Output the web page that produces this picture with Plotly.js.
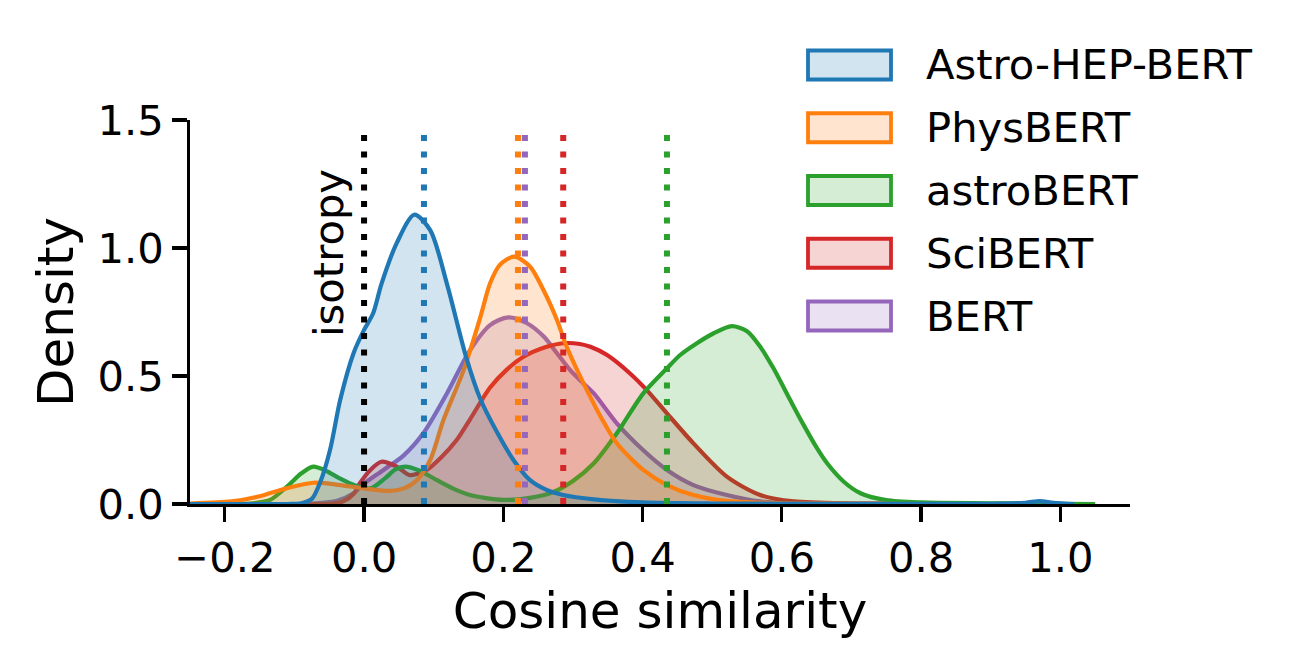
<!DOCTYPE html>
<html>
<head>
<meta charset="utf-8">
<script src="https://cdn.plot.ly/plotly-3.0.1.min.js"></script>
<style>body{margin:0;background:#fff}</style>
</head>
<body>
<div id="chart" style="width:1297px;height:670px"></div>
<script>
// models, in legend order
const models = ['Astro-HEP-BERT', 'PhysBERT', 'astroBERT', 'SciBERT', 'BERT'];
// mean cosine similarity per model (dotted lines)
const means = [0.086, 0.221, 0.435, 0.286, 0.231];
const isotropyX = 0.0;
const meanLineTop = 1.45;

// KDE curves
const astroHepX = [-0.25, -0.11, -0.09, -0.075, -0.063, -0.049, -0.034, -0.015, 0.0, 0.013, 0.025, 0.047, 0.072, 0.095, 0.119, 0.147, 0.167, 0.191, 0.215, 0.238, 0.262, 0.286, 0.33, 0.4, 0.5, 0.9, 0.95, 0.97, 0.99, 1.02];
const astroHepY = [0, 0, 0.003, 0.02, 0.085, 0.21, 0.41, 0.59, 0.68, 0.745, 0.86, 1.02, 1.13, 1.07, 0.86, 0.57, 0.41, 0.28, 0.17, 0.094, 0.055, 0.035, 0.018, 0.006, 0.002, 0.001, 0.005, 0.011, 0.005, 0];

const physX = [-0.25, -0.19, -0.15, -0.12, -0.095, -0.073, -0.04, 0.0, 0.033, 0.057, 0.076, 0.095, 0.114, 0.143, 0.167, 0.181, 0.195, 0.2155, 0.2385, 0.2576, 0.277, 0.291, 0.306, 0.32, 0.34, 0.363, 0.401, 0.435, 0.473, 0.52, 0.6, 0.7, 0.8];
const physY = [0.002, 0.01, 0.03, 0.055, 0.072, 0.083, 0.076, 0.061, 0.051, 0.061, 0.094, 0.172, 0.328, 0.523, 0.73, 0.862, 0.934, 0.966, 0.927, 0.836, 0.719, 0.614, 0.523, 0.445, 0.34, 0.237, 0.133, 0.074, 0.035, 0.012, 0.003, 0.001, 0];

const astroX = [-0.25, -0.16, -0.135, -0.11, -0.09, -0.073, -0.055, -0.035, -0.015, 0.009, 0.03, 0.045, 0.059, 0.08, 0.104, 0.128, 0.152, 0.2, 0.24, 0.27, 0.3, 0.33, 0.363, 0.401, 0.435, 0.454, 0.478, 0.502, 0.528, 0.55, 0.569, 0.588, 0.612, 0.631, 0.65, 0.665, 0.689, 0.713, 0.75, 0.8, 0.9, 1.0, 1.05];
const astroY = [0, 0.003, 0.016, 0.07, 0.12, 0.146, 0.13, 0.10, 0.075, 0.061, 0.10, 0.135, 0.146, 0.13, 0.094, 0.06, 0.035, 0.016, 0.025, 0.045, 0.09, 0.159, 0.276, 0.432, 0.53, 0.582, 0.628, 0.667, 0.695, 0.675, 0.614, 0.53, 0.406, 0.31, 0.22, 0.159, 0.087, 0.042, 0.015, 0.006, 0.003, 0.001, 0];

const sciX = [-0.25, -0.06, -0.045, -0.03, -0.015, -0.006, 0.009, 0.025, 0.047, 0.066, 0.09, 0.11, 0.133, 0.152, 0.181, 0.205, 0.229, 0.26, 0.286, 0.31, 0.325, 0.349, 0.382, 0.406, 0.435, 0.473, 0.521, 0.569, 0.617, 0.7, 0.8, 0.9];
const sciY = [0, 0, 0.002, 0.01, 0.04, 0.081, 0.133, 0.165, 0.146, 0.113, 0.133, 0.18, 0.25, 0.33, 0.455, 0.525, 0.575, 0.612, 0.628, 0.625, 0.614, 0.582, 0.51, 0.445, 0.354, 0.237, 0.107, 0.035, 0.01, 0.002, 0.001, 0];

const bertX = [-0.25, -0.1, -0.07, -0.04, -0.015, 0.0, 0.028, 0.057, 0.085, 0.119, 0.152, 0.181, 0.207, 0.234, 0.258, 0.277, 0.296, 0.315, 0.33, 0.363, 0.401, 0.435, 0.473, 0.521, 0.569, 0.65, 0.75, 0.85];
const bertY = [0, 0, 0.003, 0.012, 0.042, 0.08, 0.133, 0.19, 0.276, 0.432, 0.60, 0.699, 0.729, 0.706, 0.654, 0.589, 0.523, 0.471, 0.432, 0.315, 0.21, 0.133, 0.074, 0.035, 0.01, 0.003, 0.001, 0];

const xTicks = [-0.2, 0.0, 0.2, 0.4, 0.6, 0.8, 1.0];
const xTickText = ['\u22120.2', '0.0', '0.2', '0.4', '0.6', '0.8', '1.0'];
const yTicks = [0, 0.5, 1.0, 1.5];
const yTickText = ['0.0', '0.5', '1.0', '1.5'];

const curvesX = [astroHepX, physX, astroX, sciX, bertX];
const curvesY = [astroHepY, physY, astroY, sciY, bertY];
const colors = ['#1f77b4', '#ff7f0e', '#2ca02c', '#d62728', '#9467bd'];

function rgba(hex, a) {
  const n = parseInt(hex.slice(1), 16);
  return 'rgba(' + (n >> 16) + ',' + ((n >> 8) & 255) + ',' + (n & 255) + ',' + a + ')';
}

const FONT = 'DejaVu Sans';
const W = 1297, H = 670;
const M = {l: 190, r: 167, t: 120, b: 166};
const pw = W - M.l - M.r, ph = H - M.t - M.b;
// pixel -> paper coords, for the hand-made legend
const px2x = p => (p - M.l) / pw;
const px2y = p => (H - M.b - p) / ph;

let data = [];
// seaborn layers the last hue first
for (let i = models.length - 1; i >= 0; i--) {
  data.push({
    x: curvesX[i],
    y: curvesY[i],
    type: 'scatter',
    mode: 'lines',
    name: models[i],
    fill: 'tozeroy',
    fillcolor: rgba(colors[i], 0.2),
    line: {color: colors[i], width: 4.2, shape: 'spline', smoothing: 0.8},
    hoverinfo: 'skip'
  });
}

const dotted = '6px,10.5px';
data.push({
  x: [isotropyX, isotropyX],
  y: [0, meanLineTop],
  type: 'scatter', mode: 'lines', name: 'isotropy',
  line: {color: 'black', width: 6, dash: dotted},
  hoverinfo: 'skip'
});
for (let i = 0; i < models.length; i++) {
  data.push({
    x: [means[i], means[i]],
    y: [0, meanLineTop],
    type: 'scatter', mode: 'lines', name: models[i] + ' mean',
    line: {color: colors[i], width: 6, dash: dotted},
    hoverinfo: 'skip'
  });
}

// legend drawn as matplotlib-style patches
let shapes = [];
let annotations = [];
for (let i = 0; i < models.length; i++) {
  const cy = 65 + i * 62.75;
  shapes.push({
    type: 'rect', xref: 'paper', yref: 'paper',
    x0: px2x(808), x1: px2x(891),
    y0: px2y(cy - 14.5), y1: px2y(cy + 14.5),
    fillcolor: rgba(colors[i], 0.2),
    line: {color: colors[i], width: 3.8}
  });
  annotations.push({
    xref: 'paper', yref: 'paper',
    x: px2x(924), y: px2y(cy),
    xanchor: 'left', yanchor: 'middle',
    text: models[i], showarrow: false,
    font: {family: FONT, size: 41.7, color: 'black'}
  });
}
annotations.push({
  x: -0.052, y: 0.98, xref: 'x', yref: 'y',
  text: 'isotropy', showarrow: false, textangle: -90,
  font: {family: FONT, size: 41.7, color: 'black'}
});

const axisCommon = {
  showline: true, linecolor: 'black', linewidth: 3.3,
  ticks: 'outside', ticklen: 14.6, tickwidth: 3.3, tickcolor: 'black',
  showgrid: false, zeroline: false,
  tickfont: {family: FONT, size: 41.7, color: 'black'}
};

let layout = {
  width: W, height: H,
  margin: {l: M.l, r: M.r, t: M.t, b: M.b, pad: 0},
  paper_bgcolor: 'white', plot_bgcolor: 'white',
  showlegend: false,
  font: {family: FONT, color: 'black'},
  xaxis: Object.assign({}, axisCommon, {
    range: [-0.25, 1.1],
    tickmode: 'array', tickvals: xTicks, ticktext: xTickText,
    title: {text: 'Cosine similarity', font: {family: FONT, size: 50, color: 'black'}, standoff: 13}
  }),
  yaxis: Object.assign({}, axisCommon, {
    range: [0, 1.5],
    tickmode: 'array', tickvals: yTicks, ticktext: yTickText,
    title: {text: 'Density', font: {family: FONT, size: 50, color: 'black'}, standoff: 9}
  }),
  shapes: shapes,
  annotations: annotations
};

Plotly.newPlot('chart', data, layout, {staticPlot: true});
</script>
</body>
</html>
